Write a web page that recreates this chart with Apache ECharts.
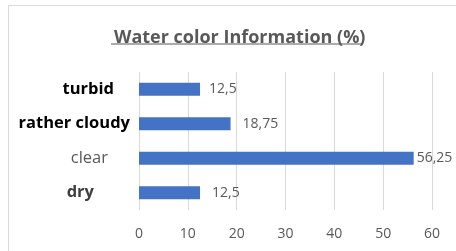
<!DOCTYPE html>
<html>
<head>
<meta charset="utf-8">
<script src="https://cdn.jsdelivr.net/npm/echarts@6/dist/echarts.min.js"></script>
<style>
  html, body { margin: 0; padding: 0; background: #fff; }
  #main { width: 456px; height: 251px; }
</style>
</head>
<body>
<div id="main"></div>
<script>
  // data, bottom to top as drawn
  var categories = ['dry', 'clear', 'rather cloudy', 'turbid'];
  var values = [12.5, 56.25, 18.75, 12.5];
  var xTicks = [0, 10, 20, 30, 40, 50, 60];

  // label look per category (excel kept mixed formatting on these)
  var catStyle = {
    'turbid': 'bk',
    'rather cloudy': 'bk',
    'clear': 'n',
    'dry': 'bg'
  };
  var catPad = {'turbid': 16, 'rather cloudy': 0, 'clear': 22, 'dry': 36};
  var labelDist = [12, 3, 12, 9];

  var rich = {};
  categories.forEach(function (c, i) {
    var s = catStyle[c];
    rich['k' + i] = {
      color: s === 'bk' ? '#000' : (s === 'bg' ? '#404040' : '#595959'),
      fontWeight: s === 'n' ? 'normal' : 'bold',
      fontSize: 16.5,
      fontFamily: 'Open Sans',
      padding: [0, catPad[c], 0, 0]
    };
  });

  var myChart = echarts.init(document.getElementById('main'));
  myChart.setOption({
    animation: false,
    title: {
      text: 'Water color Information (%)',
      left: 109,
      top: 24,
      textStyle: {
        color: '#595959',
        fontSize: 18,
        fontWeight: 'bold',
        fontFamily: 'Open Sans'
      }
    },
    graphic: [
      {
        type: 'rect',
        shape: {x: 8.5, y: 5.5, width: 470, height: 260},
        style: {fill: 'none', stroke: '#d9d9d9', lineWidth: 1},
        silent: true
      },
      {
        type: 'line',
        shape: {x1: 111, y1: 44, x2: 362, y2: 44},
        style: {stroke: '#595959', lineWidth: 1.2},
        silent: true
      }
    ],
    grid: {left: 139, right: 24, top: 72, bottom: 41},
    xAxis: {
      type: 'value',
      min: xTicks[0],
      max: xTicks[xTicks.length - 1],
      interval: 10,
      axisLine: {show: false},
      axisTick: {show: false},
      splitLine: {lineStyle: {color: '#d9d9d9', width: 1}},
      axisLabel: {
        color: '#595959',
        fontSize: 14,
        fontFamily: 'Open Sans',
        margin: 17
      }
    },
    yAxis: {
      type: 'category',
      data: categories,
      axisLine: {show: false},
      axisTick: {show: false},
      axisLabel: {
        margin: 9,
        formatter: function (v) {
          return '{k' + categories.indexOf(v) + '|' + v + '}';
        },
        rich: rich
      }
    },
    series: [
      {
        type: 'bar',
        data: values.map(function (v, i) {
          return {value: v, label: {distance: labelDist[i]}};
        }),
        barWidth: 13,
        itemStyle: {color: '#4472c4'},
        label: {
          show: true,
          position: 'right',
          color: '#595959',
          fontSize: 14,
          fontFamily: 'Open Sans',
          formatter: function (p) {
            return String(p.value).replace('.', ',');
          }
        }
      }
    ]
  });
</script>
</body>
</html>
